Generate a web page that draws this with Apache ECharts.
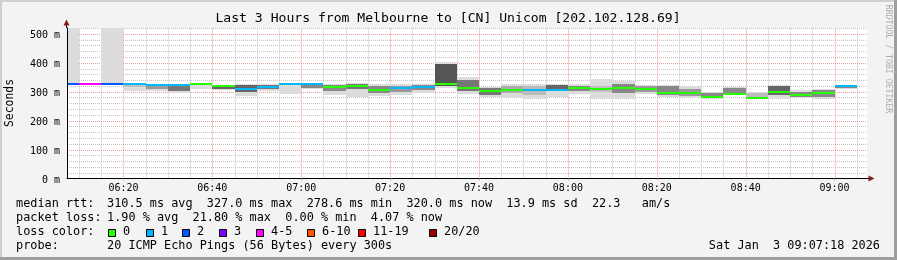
<!DOCTYPE html>
<html><head><meta charset="utf-8">
<script src="https://cdn.jsdelivr.net/npm/echarts@6/dist/echarts.min.js"></script>
<style>html,body{margin:0;padding:0;background:#f3f3f3;overflow:hidden}#c{width:897px;height:260px}</style>
</head><body><div id="c"></div>
<script>
// ---- data ----
const slotStart = ['06:05','06:10','06:15','06:20','06:25','06:30','06:35','06:40','06:45','06:50','06:55','07:00',
  '07:05','07:10','07:15','07:20','07:25','07:30','07:35','07:40','07:45','07:50','07:55','08:00',
  '08:05','08:10','08:15','08:20','08:25','08:30','08:35','08:40','08:45','08:50','08:55','09:00'];
const median = [327,327,327,327,322,323,327,321,308,317,327,326,
  317,318,307,314,317,327,314,304,307,307,307,314,
  308,314,310,297,294,280,292,278.6,299,287,295,320];
const lossIdx = [2,4,2,1,1,1,0,0,1,1,1,1,
  0,0,0,1,1,0,0,0,0,1,1,0,
  0,0,0,0,0,0,0,0,0,0,0,1];
const smokeLo = [327,325,327,304,301,294,310,305,286,303,293,310,
  290,280,284,290,296,312,293,281,277,276,282,292,
  275,275,293,281,278,276,287,277,275,279,276,309];
const smokeHi = [520,329,520,328,328,326,328,323,326,325,328,328,
  326,329,326,326,328,402,349,315,326,326,326,326,
  345,336,322,324,318,300,316,300,324,305,310,323];
const coreLo = [null,null,null,316,310,302,null,308,298,308,null,313,
  303,308,295,300,305,320,303,290,295,290,303,303,
  298,295,300,288,285,281,291,280,288,283,283,312];
const coreHi = [null,null,null,327,326,322,null,321,322,322,null,326,
  324,328,318,320,322,396,341,312,318,320,322,320,
  320,325,318,318,310,297,312,296,318,300,305,321];
const coreGrey = [null,null,null,'#c0c0c0','#9a9a9a','#777777',null,'#666666','#666666','#777777',null,'#888888',
  '#888888','#777777','#888888','#9a9a9a','#888888','#555555','#777777','#777777','#aaaaaa','#bbbbbb','#666666','#888888',
  '#c0c0c0','#888888','#9a9a9a','#888888','#9a9a9a','#888888','#888888','#bbbbbb','#666666','#888888','#888888','#888888'];
const lossLabels = ['0','1','2','3','4-5','6-10','11-19','20/20'];
const lossColors = ['#26ff00','#00b8ff','#0059ff','#7e00ff','#ff00ff','#ff5500','#ff0000','#a00000'];
const xTickLabels = ['06:20','06:40','07:00','07:20','07:40','08:00','08:20','08:40','09:00'];
const yTickLabels = [0,100,200,300,400,500];
const timeStart = '06:07:18', timeEnd = '09:07:18';
const stepMin = 5;
const statsRtt = '310.5 ms avg  327.0 ms max  278.6 ms min  320.0 ms now  13.9 ms sd  22.3   am/s';
const statsLoss = '1.90 % avg  21.80 % max  0.00 % min  4.07 % now';
const probeText = '20 ICMP Echo Pings (56 Bytes) every 300s';
const stampText = 'Sat Jan  3 09:07:18 2026';
const titleText = 'Last 3 Hours from Melbourne to [CN] Unicom [202.102.128.69]';

// ---- helpers ----
const toMin = s => { const p = s.split(':').map(Number); return (p[0]-6)*60 + p[1] + (p[2]||0)/60; };
const xMin = toMin(timeStart), xMax = toMin(timeEnd);
const yMin = 0, yMax = 520;
const xTickValues = xTickLabels.map(toMin);

const smokeData = slotStart.map((t,i) => { const s = toMin(t); return [s, s+stepMin, smokeLo[i], smokeHi[i], coreLo[i]||0, coreHi[i]||0, median[i], lossIdx[i], i]; });

const gridData = [];
for (let v = Math.ceil(xMin/stepMin)*stepMin; v < xMax; v += stepMin) gridData.push([v, 0, (v % 20 === 0) ? 1 : 0]);
for (let v = 20; v <= yMax; v += 20) gridData.push([v, 1, (v % 100 === 0) ? 1 : 0]);
gridData.sort((a,b)=>a[2]-b[2]);

function clip(r, cs) {
  return echarts.graphic.clipRectByRect(r, {x: cs.x, y: cs.y, width: cs.width, height: cs.height});
}
function renderSmoke(params, api) {
  const i = api.value(8);
  const s = api.value(0), e = api.value(1);
  const cs = params.coordSys;
  const box = (lo, hi) => {
    const a = api.coord([s, hi]), b = api.coord([e, lo]);
    const x0 = Math.round(a[0]), x1 = Math.round(b[0]);
    const y0 = Math.round(a[1]), y1 = Math.round(b[1]);
    return clip({x: x0, y: y0, width: x1 - x0, height: Math.max(1, y1 - y0)}, cs);
  };
  const ch = [];
  const o = box(api.value(2), api.value(3));
  if (o) ch.push({type:'rect', shape:o, style:{fill:'#dcdcdc'}});
  if (coreGrey[i]) { const c = box(api.value(4), api.value(5)); if (c) ch.push({type:'rect', shape:c, style:{fill:coreGrey[i]}}); }
  const a = api.coord([s, api.value(6)]), b = api.coord([e, api.value(6)]);
  const x0 = Math.round(a[0]), x1 = Math.round(b[0]);
  const ml = clip({x: x0, y: Math.round(a[1]) - 1, width: x1 - x0, height: 2}, cs);
  if (ml) ch.push({type:'rect', shape:ml, style:{fill: lossColors[api.value(7)]}});
  return {type:'group', children: ch};
}
function renderGrid(params, api) {
  const v = api.value(0), horiz = api.value(1), major = api.value(2);
  let p1, p2;
  if (!horiz) {
    p1 = api.coord([v, yMin]); p2 = api.coord([v, yMax]);
    const x = Math.round(p1[0]) + 0.5; p1 = [x, p1[1]]; p2 = [x, p2[1]];
  } else {
    p1 = api.coord([xMin, v]); p2 = api.coord([xMax, v]);
    const y = Math.round(p1[1]) + 0.5; p1 = [p1[0], y]; p2 = [p2[0], y];
  }
  return {type:'line', shape:{x1:p1[0], y1:p1[1], x2:p2[0], y2:p2[1]},
    style:{stroke: major ? '#eb9a9a' : '#c4c4c4', lineWidth:1, lineDash:[1,1]}};
}

const FONT = 'DejaVu Sans Mono';
const LF = '11.85px "' + FONT + '"';
const txt = (x, y, text, opt) => Object.assign({type:'text', x, y, silent:true,
  style:Object.assign({text, fill:'#000', font:LF, textAlign:'left', textVerticalAlign:'middle'}, opt||{})});

const graphics = [
  {type:'rect', shape:{x:0,y:0,width:897,height:2}, style:{fill:'#cfcfcf'}, silent:true},
  {type:'rect', shape:{x:0,y:0,width:2,height:260}, style:{fill:'#cfcfcf'}, silent:true},
  {type:'rect', shape:{x:0,y:257,width:897,height:3}, style:{fill:'#9e9e9e'}, silent:true},
  {type:'rect', shape:{x:894,y:0,width:3,height:260}, style:{fill:'#9e9e9e'}, silent:true},
  txt(448, 19, titleText, {textAlign:'center', font:'13.1px "' + FONT + '"'}),
  {type:'text', x:10, y:103, rotation:Math.PI/2, silent:true, style:{text:'Seconds', fill:'#000', font:'11.4px "' + FONT + '"', textAlign:'center', textVerticalAlign:'middle'}},
  {type:'text', x:888, y:59, rotation:-Math.PI/2, silent:true, style:{text:'RRDTOOL / TOBI OETIKER', fill:'#adadad', font:'8.2px "' + FONT + '"', textAlign:'center', textVerticalAlign:'middle'}},
  // axis extensions and arrows
  {type:'line', shape:{x1:867, y1:178.5, x2:869, y2:178.5}, style:{stroke:'#000', lineWidth:1}, silent:true, z:20},
  {type:'polygon', shape:{points:[[868.5,175.5],[874.5,178.5],[868.5,181.5]]}, style:{fill:'#7f1f1f'}, silent:true, z:20},
  {type:'line', shape:{x1:66.5, y1:28, x2:66.5, y2:25}, style:{stroke:'#000', lineWidth:1}, silent:true, z:20},
  {type:'polygon', shape:{points:[[63.5,25.5],[66.5,19.5],[69.5,25.5]]}, style:{fill:'#7f1f1f'}, silent:true, z:20},
  // legend lines
  txt(16, 204, 'median rtt:'), txt(107, 204, statsRtt),
  txt(16, 218, 'packet loss:'), txt(107, 218, statsLoss),
  txt(16, 232, 'loss color:'),
  txt(16, 246, 'probe:'), txt(107, 246, probeText),
  txt(880, 246, stampText, {textAlign:'right'})
];
const boxX = [108, 146, 182, 219, 256, 307, 358, 429];
lossLabels.forEach((l, i) => {
  graphics.push({type:'rect', shape:{x:boxX[i]+0.5, y:229.5, width:7, height:7}, style:{fill:lossColors[i], stroke:'#000', lineWidth:1}, silent:true});
  graphics.push(txt(boxX[i] + 15, 232, l));
});

const chart = echarts.init(document.getElementById('c'), null, {renderer:'canvas'});
chart.setOption({
  animation:false,
  backgroundColor:'#f3f3f3',
  grid:{left:67, top:28, width:800, height:150.5, show:true, backgroundColor:'#ffffff', borderWidth:0},
  xAxis:{type:'value', min:xMin, max:xMax, z:10,
    axisLine:{show:true, onZero:false, lineStyle:{color:'#000', width:1}},
    axisTick:{show:true, customValues:xTickValues, length:2, inside:false, lineStyle:{color:'#eb9a9a'}},
    axisLabel:{customValues:xTickValues, margin:5, formatter:(v)=>{ const k = xTickValues.findIndex(t=>Math.abs(t-v)<1e-6); return k>=0 ? xTickLabels[k] : ''; },
      fontFamily:FONT, fontSize:10, color:'#000'},
    splitLine:{show:false}},
  yAxis:{type:'value', min:yMin, max:yMax, z:10,
    axisLine:{show:true, lineStyle:{color:'#000', width:1}},
    axisTick:{show:false},
    axisLabel:{customValues:yTickLabels, margin:7, formatter:(v)=>'{v|' + v + ' m}',
      rich:{v:{fontFamily:FONT, fontSize:10, color:'#000', padding:[4,0,0,0]}}},
    splitLine:{show:false}},
  graphic:graphics,
  series:[
    {type:'custom', z:1, silent:true, clip:true, renderItem:renderGrid, data:gridData, encode:{x:0, y:0}},
    {type:'custom', z:2, silent:true, clip:true, renderItem:renderSmoke, data:smokeData, encode:{x:[0,1], y:[2,3]}}
  ]
});
</script></body></html>
